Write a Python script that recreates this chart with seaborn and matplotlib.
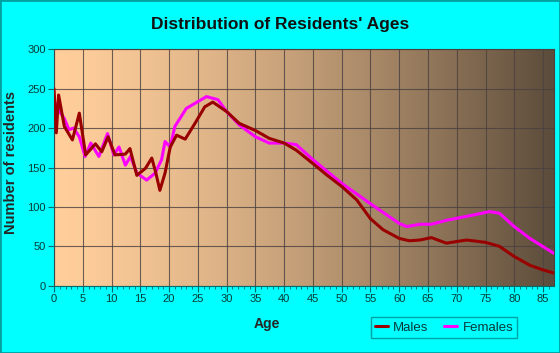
import numpy as np
import pandas as pd
import matplotlib
matplotlib.use("Agg")
import matplotlib.pyplot as plt
import seaborn as sns
from matplotlib.patches import Rectangle
from matplotlib.ticker import MultipleLocator

male_age = [0, 0.4, 0.8, 1.8, 3.2, 4.4, 5.5, 7.2, 8.3, 9.4, 10.6, 12.4, 13.2, 14.4, 15.9,
            17, 17.7, 18.4, 19.3, 20.2, 21.3, 22.8, 24.5, 26.2, 27.6, 30, 32.2, 35, 37.4,
            40, 42.1, 45, 47.5, 50, 52.6, 55, 57.2, 60, 61.8, 63.6, 65.6, 68.2, 71.7, 75,
            77.4, 80, 82.7, 85, 86.9]
male_val = [250, 194, 242, 202, 185, 219, 166, 180, 170, 189, 166, 167, 174, 140, 149,
            162, 143, 121, 143, 176, 191, 186, 206, 227, 233, 221, 206, 197, 187,
            181, 172, 155, 140, 126, 109, 85, 71, 60, 57, 58, 61, 54, 58, 55,
            50, 37, 26, 20, 16]

female_age = [0, 0.8, 1.8, 2.6, 3.4, 4.4, 5.4, 6.4, 7.8, 9.3, 10.4, 11.3, 12.4, 13.3, 14.4,
              16.1, 17.6, 18.7, 19.3, 20.2, 21, 23, 26.5, 28.5, 30, 32.2, 35, 37.4, 40,
              42.1, 45, 50, 55, 57.8, 60, 61.3, 63.6, 65.6, 68.2, 71.7, 75.7, 77.4, 80,
              82.7, 86.9]
female_val = [235, 223, 212, 198, 200, 189, 164, 181, 164, 193, 166, 176, 153, 164, 143,
              134, 143, 160, 183, 176, 202, 225, 240, 236, 221, 204, 189, 181, 181,
              179, 160, 130, 104, 90, 79, 75, 78, 78, 83, 88, 94, 92, 75,
              60, 41]

x_ticks = list(range(0, 90, 5))
y_ticks = list(range(0, 301, 50))

males = pd.DataFrame({"Age": male_age, "Residents": male_val})
females = pd.DataFrame({"Age": female_age, "Residents": female_val})

sns.set_theme(style="white")
plt.rcParams["font.family"] = ["Liberation Sans", "DejaVu Sans"]

fig = plt.figure(figsize=(5.6, 3.53), dpi=100, facecolor="#00FFFF")
ax = fig.add_axes([54 / 560, 1 - 285.7 / 353, (554 - 54) / 560, (285.7 - 49.3) / 353])

# gradient background
c0 = np.array([255, 206, 155]) / 255
c1 = np.array([92, 76, 59]) / 255
t = (np.linspace(0, 1, 256) ** 1.4)[None, :, None]
grad = c0 + (c1 - c0) * t
ax.imshow(grad, extent=[0, 1, 0, 1], transform=ax.transAxes, aspect="auto", zorder=0)

sns.lineplot(data=females, x="Age", y="Residents", ax=ax, color="#FF00FF", lw=2.2,
             label="Females", zorder=3)
sns.lineplot(data=males, x="Age", y="Residents", ax=ax, color="#990000", lw=2.2,
             label="Males", zorder=4)

ax.set_xlim(0, 86.9)
ax.set_ylim(0, 300)
ax.set_xticks(x_ticks)
ax.set_yticks(y_ticks)
ax.xaxis.set_minor_locator(MultipleLocator(1))
ax.grid(True, which="major", color="#4a4040", lw=0.8, alpha=0.8, zorder=1)
ax.set_axisbelow(False)
for l in ax.get_xgridlines() + ax.get_ygridlines():
    l.set_zorder(1)

ax.tick_params(axis="both", which="major", direction="out", length=4, width=0.8,
               color="#006b6b", labelsize=8, labelcolor="#073c36", pad=2,
               bottom=True, left=True)
ax.tick_params(axis="x", which="minor", direction="out", length=2, width=0.6,
               color="#006b6b", bottom=True)
for s in ["left", "bottom"]:
    ax.spines[s].set_color("#006b6b")
    ax.spines[s].set_linewidth(0.8)
for s in ["top", "right"]:
    ax.spines[s].set_color("#4a4040")
    ax.spines[s].set_linewidth(0.8)

ax.set_xlabel("Age", fontsize=10, fontweight="bold")
ax.set_ylabel("Number of residents", fontsize=10.5, fontweight="bold")
ax.xaxis.set_label_coords((267 - 54) / 500, -(317 - 285.7) / 236.4)
ax.yaxis.set_label_coords(-(54 - 18) / 500, (285.7 - 163) / 236.4)

fig.text(0.5, 1 - 24 / 353, "Distribution of Residents' Ages", ha="center", va="center",
         fontsize=12.5, fontweight="bold", color="#111111")

h, lab = ax.get_legend_handles_labels()
order = [lab.index("Males"), lab.index("Females")]
if ax.get_legend():
    ax.get_legend().remove()
leg = fig.legend([h[i] for i in order], [lab[i] for i in order], loc="center",
                 bbox_to_anchor=(444 / 560, 1 - 327.5 / 353), ncol=2, frameon=True,
                 fontsize=9.5, handlelength=1.0, handletextpad=0.4, columnspacing=1.2,
                 borderpad=0.3, fancybox=False)
leg.get_frame().set_facecolor("#00FFFF")
leg.get_frame().set_edgecolor("#008b8b")
leg.get_frame().set_linewidth(1.0)
for txt in leg.get_texts():
    txt.set_color("#0a3a3a")

fig.patches.append(Rectangle((0, 0), 1, 1, transform=fig.transFigure, fill=False,
                             edgecolor="#00a0a0", lw=2))

fig.savefig("out.png", dpi=100, facecolor=fig.get_facecolor())
